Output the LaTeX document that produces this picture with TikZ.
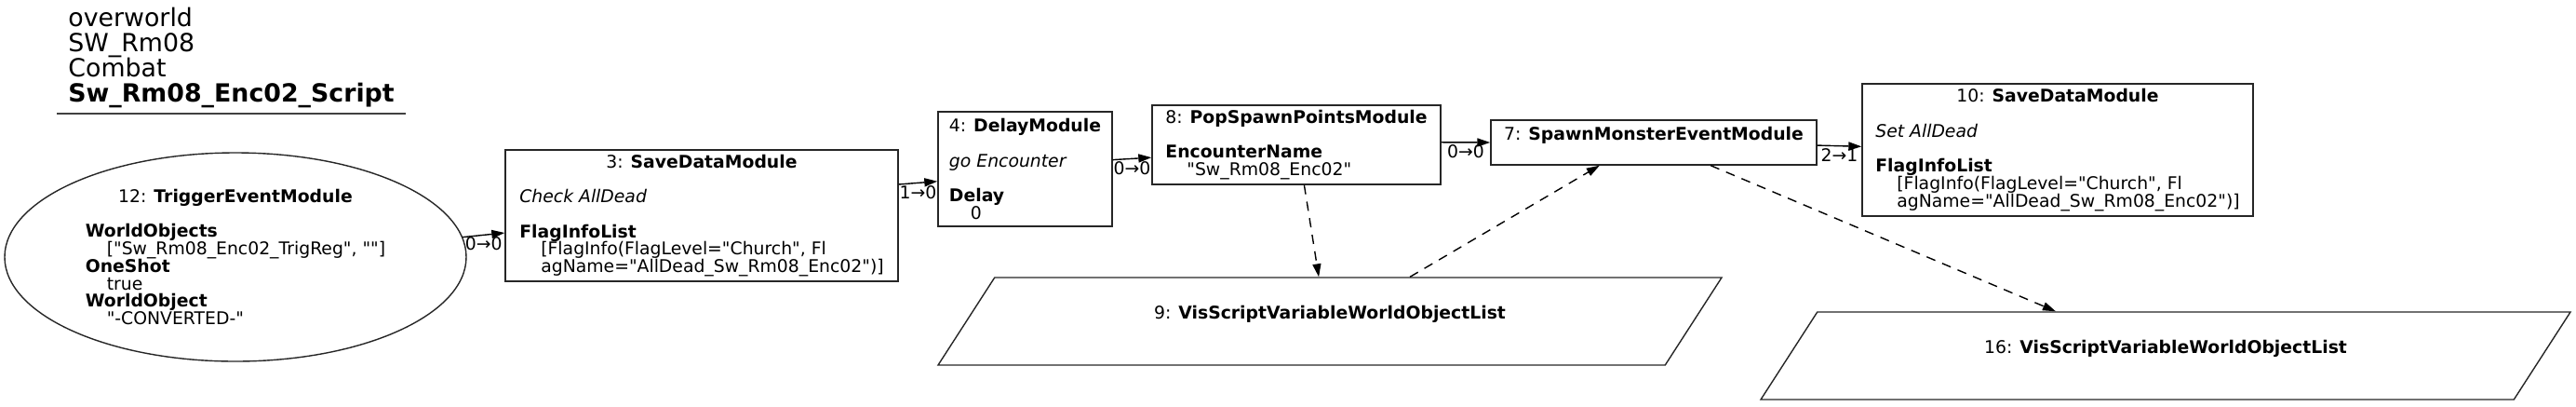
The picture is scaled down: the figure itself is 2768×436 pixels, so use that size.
\documentclass[tikz,border=0pt]{standalone}
\usepackage{fontspec}
\newfontfamily\dejavu{DejaVu Sans}
\usepackage{tikz}
\usetikzlibrary{arrows.meta, shapes.geometric}
\lineskiplimit=-100pt
% rows of a module label, first row may be centred with \hfil
\newcommand{\modlines}[1]{\vbox{\let\\\cr\halign{##\hfil\cr#1\crcr}}}

\begin{document}
\begin{tikzpicture}[
    x=0.5pt, y=-0.5pt,
    >={Triangle[length=7pt, width=4.5pt]},
    every node/.style={font=\dejavu\fontsize{9.4}{9.35}\selectfont},
    module/.style={rectangle, draw=black!85, line width=0.7pt, inner sep=0pt},
    trigger/.style={ellipse, draw=black!85, line width=0.7pt, inner sep=0pt},
    varlist/.style={trapezium, trapezium left angle=28.5, trapezium right angle=151.5,
                    trapezium stretches body=true, draw=black!85, line width=0.7pt,
                    inner sep=0pt},
    flow/.style={->, line width=0.7pt},
    varlink/.style={->, line width=0.7pt, dash pattern=on 5pt off 4pt},
    port/.style={below, inner sep=1pt},
]
    \useasboundingbox (0,0) rectangle (2768,436);

    % ── Title ─────────────────────────────────────
    \node[anchor=north west, inner sep=0pt, align=left,
          font=\dejavu\fontsize{13.4}{13.5}\selectfont] (title) at (73,8)
         {overworld\\SW\_Rm08\\Combat\\\textbf{Sw\_Rm08\_Enc02\_Script}};
    \draw[line width=1pt, black!75] (61,122) -- (436,122);

    % ── Modules ───────────────────────────────────
    \node[trigger, minimum width=248pt, minimum height=112pt] (n12) at (253,276)
         {\modlines{\hfil 12: \textbf{TriggerEventModule}\\ \\
          \textbf{WorldObjects}\\ \hspace*{11.5pt}["Sw\_Rm08\_Enc02\_TrigReg", ""]\\
          \textbf{OneShot}\\ \hspace*{11.5pt}true\\
          \textbf{WorldObject}\\ \hspace*{11.5pt}"-CONVERTED-"}};

    \node[module, minimum width=211pt, minimum height=70.5pt] (n3) at (754,231.5)
         {\modlines{\hfil 3: \textbf{SaveDataModule}\\ \\
          \textit{Check AllDead}\\ \\
          \textbf{FlagInfoList}\\
          \hspace*{11.5pt}[FlagInfo(FlagLevel="Church", Fl\\
          \hspace*{11.5pt}agName="AllDead\_Sw\_Rm08\_Enc02")]}};

    \node[module, minimum width=93.5pt, minimum height=61.5pt] (n4) at (1101.5,181.5)
         {\modlines{4: \textbf{DelayModule}\\ \\
          \textit{go Encounter}\\ \\
          \textbf{Delay}\\ \hspace*{11.5pt}0}};

    \node[module, minimum width=155pt, minimum height=42.5pt] (n8) at (1393,155.5)
         {\modlines{8: \textbf{PopSpawnPointsModule}\\ \\
          \textbf{EncounterName}\\ \hspace*{11.5pt}"Sw\_Rm08\_Enc02"}};

    \node[module, minimum width=175pt, minimum height=24pt] (n7) at (1777,153)
         {\modlines{7: \textbf{SpawnMonsterEventModule}\\ \mbox{}}};

    \node[module, minimum width=210pt, minimum height=71pt] (n10) at (2211,161)
         {\modlines{\hfil 10: \textbf{SaveDataModule}\\ \\
          \textit{Set AllDead}\\ \\
          \textbf{FlagInfoList}\\
          \hspace*{11.5pt}[FlagInfo(FlagLevel="Church", Fl\\
          \hspace*{11.5pt}agName="AllDead\_Sw\_Rm08\_Enc02")]}};

    % ── Variables ─────────────────────────────────
    \node[varlist, minimum width=421pt, minimum height=47pt] (n9) at (1429,345)
         {\modlines{9: \textbf{VisScriptVariableWorldObjectList}\\ \mbox{}}};
    \node[varlist, minimum width=435pt, minimum height=47pt] (n16) at (2327,382)
         {\modlines{16: \textbf{VisScriptVariableWorldObjectList}\\ \mbox{}}};

    % ── Flow ──────────────────────────────────────
    \draw[flow] (n12.5) -- node[port] {0→0} (n3.185);
    \draw[flow] (n3.9)  -- node[port] {1→0} (n4.188);
    \draw[flow] (n4.6)  -- node[port] {0→0} (n8.185);
    \draw[flow] (n8.1)  -- node[port] {0→0} (n7.180);
    \draw[flow] (n7.-1) -- node[port] {2→1} (n10.179);

    % ── Variable links ────────────────────────────
    \draw[varlink] (n8.-79) -- (n9.104);
    \draw[varlink] (n9.29)  -- (n7.203);
    \draw[varlink] (n7.-22) -- (n16.158);
\end{tikzpicture}
\end{document}
